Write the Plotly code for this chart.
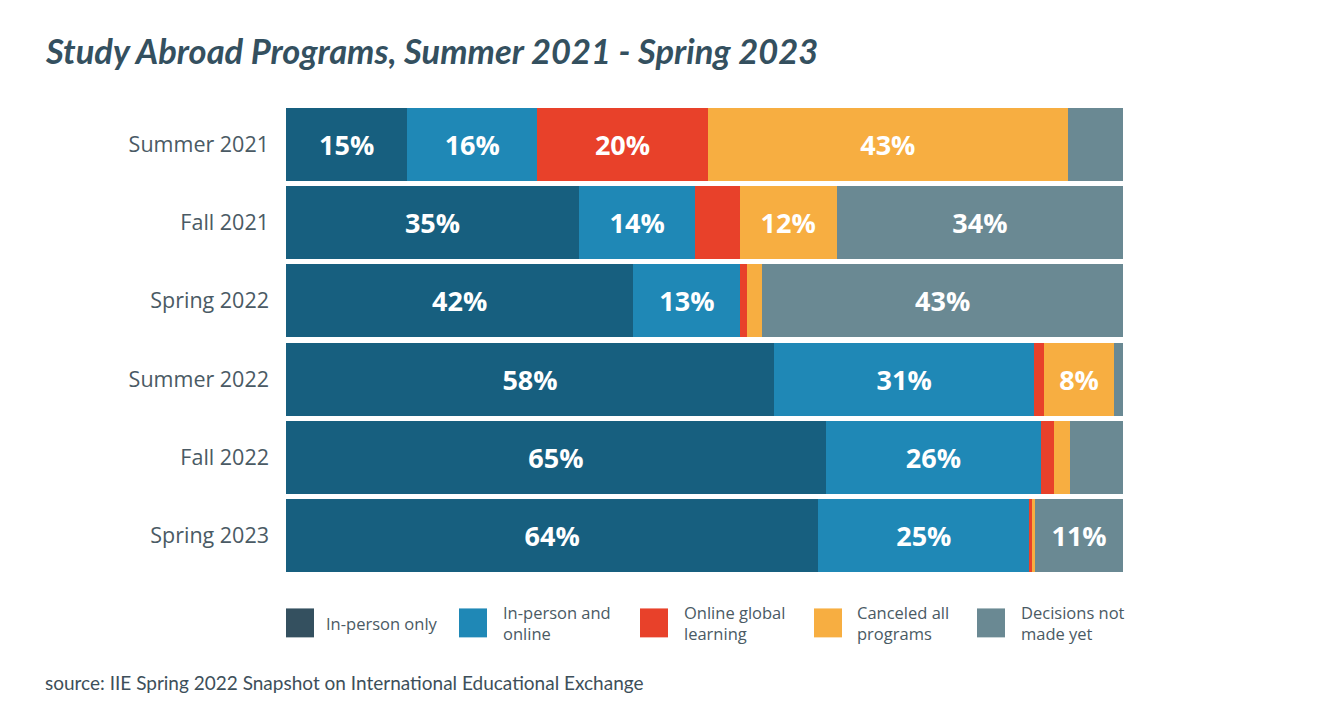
import plotly.graph_objects as go

categories = ["Summer 2021", "Fall 2021", "Spring 2022", "Summer 2022", "Fall 2022", "Spring 2023"]
series_names = ["In-person only", "In-person and online", "Online global learning",
                "Canceled all programs", "Decisions not made yet"]
legend_labels = ["In-person only", "In-person and<br>online", "Online global<br>learning",
                 "Canceled all<br>programs", "Decisions not<br>made yet"]

in_person_only = [14.5, 35.0, 41.5, 58.3, 64.5, 63.6]
in_person_online = [15.5, 13.9, 12.8, 31.1, 25.7, 25.2]
online_global = [20.4, 5.3, 0.8, 1.2, 1.5, 0.35]
canceled_all = [43.0, 11.6, 1.8, 8.3, 2.0, 0.35]
decisions_not_made = [6.6, 34.2, 43.1, 1.1, 6.3, 10.5]

labels_in_person_only = ["15%", "35%", "42%", "58%", "65%", "64%"]
labels_in_person_online = ["16%", "14%", "13%", "31%", "26%", "25%"]
labels_online_global = ["20%", "", "", "", "", ""]
labels_canceled_all = ["43%", "12%", "", "8%", "", ""]
labels_decisions = ["", "34%", "43%", "", "", "11%"]

bar_colors = ["#175f7f", "#1f88b6", "#e8412a", "#f7ae41", "#6a8993"]
legend_colors = ["#34505f", "#1f88b6", "#e8412a", "#f7ae41", "#6a8993"]

series = [in_person_only, in_person_online, online_global, canceled_all, decisions_not_made]
labels = [labels_in_person_only, labels_in_person_online, labels_online_global,
          labels_canceled_all, labels_decisions]

# page body has an 8px margin; plot area target: x 286..1123, y 104.5..575.5
L, T = 278, 96.5
PW, PH = 837, 471
X0, Y1 = 286, 575.5


def px(x):
    return (x - X0) / PW


def py(y):
    return (Y1 - y) / PH


fig = go.Figure()
for name, vals, txt, col in zip(series_names, series, labels, bar_colors):
    fig.add_trace(go.Bar(
        y=categories, x=vals, name=name, orientation="h",
        marker=dict(color=col, line=dict(width=0)),
        text=txt, textposition="inside", insidetextanchor="middle",
        textfont=dict(family="Open Sans", size=27, color="white", weight="bold"),
        constraintext="none", textangle=0,
        hoverinfo="x+y+name",
    ))

fig.update_layout(
    barmode="stack",
    bargap=0.065,
    width=1335, height=709,
    margin=dict(l=L, r=1335 - L - PW, t=T, b=709 - T - PH, autoexpand=False),
    paper_bgcolor="white", plot_bgcolor="white",
    showlegend=False,
    xaxis=dict(range=[0, 100], visible=False, fixedrange=True),
    yaxis=dict(autorange="reversed", showgrid=False, zeroline=False, showline=False,
               ticks="", ticklabelstandoff=16,
               tickfont=dict(family="Open Sans", size=21.5, color="#4a5a64")),
)

# title
fig.add_annotation(
    text="Study Abroad Programs, Summer 2021 - Spring 2023",
    xref="paper", yref="paper", x=px(43), y=py(50),
    xanchor="left", yanchor="middle", showarrow=False,
    font=dict(family="Lato", size=34.5, color="#34505f", style="italic", weight="bold"),
)

# source
fig.add_annotation(
    text="source: IIE Spring 2022 Snapshot on International Educational Exchange",
    xref="paper", yref="paper", x=px(43), y=py(683),
    xanchor="left", yanchor="middle", showarrow=False,
    font=dict(family="Lato", size=19, color="#3d4f5a"),
)

# custom legend
sq_x = [286, 459, 640, 814, 977]
txt_x = [324, 501, 682, 855, 1019]
for sx, tx, col, lab in zip(sq_x, txt_x, legend_colors, legend_labels):
    fig.add_shape(type="rect", xref="paper", yref="paper",
                  x0=px(sx), x1=px(sx + 28), y0=py(638), y1=py(609),
                  fillcolor=col, line=dict(width=0))
    fig.add_annotation(text=lab, xref="paper", yref="paper",
                       x=px(tx), y=py(624),
                       xanchor="left", yanchor="middle", align="left", showarrow=False,
                       font=dict(family="Open Sans", size=16.5, color="#4a5a64"))

fig.write_html("out.html")
